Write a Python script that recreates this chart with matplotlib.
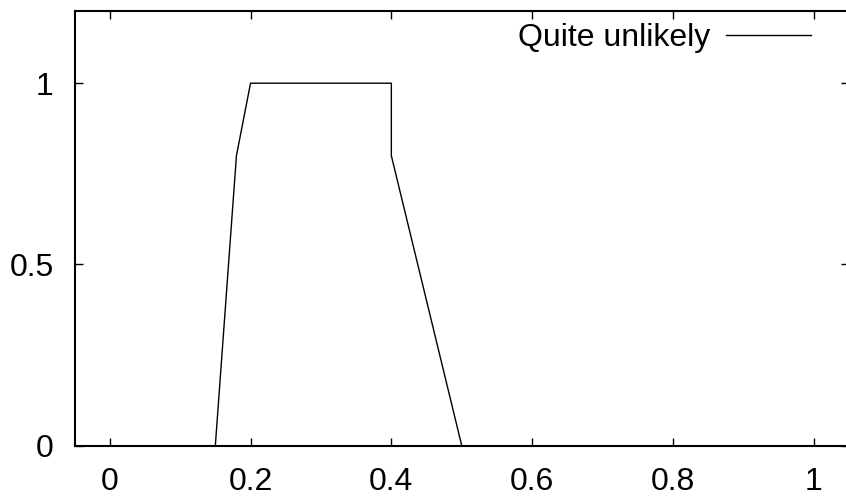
import matplotlib
matplotlib.use("Agg")
import matplotlib.pyplot as plt

x_vals = [0, 0.15, 0.18, 0.2, 0.4, 0.4, 0.5, 1.0]
y_vals = [0, 0, 0.8, 1, 1, 0.8, 0, 0]
series_label = "Quite unlikely"
x_ticks = [0, 0.2, 0.4, 0.6, 0.8, 1]
x_tick_labels = ["0", "0.2", "0.4", "0.6", "0.8", "1"]
y_ticks = [0, 0.5, 1]
y_tick_labels = ["0", "0.5", "1"]

plt.rcParams['font.family'] = ['Liberation Sans', 'DejaVu Sans']
fig = plt.figure(figsize=(8.46, 4.97), dpi=100)
W, H = 846, 497
left, right, top, bottom = 74.5, 849, 10.7, 445.7
ax = fig.add_axes([left / W, 1 - bottom / H, (right - left) / W, (bottom - top) / H])
ax.plot(x_vals, y_vals, color='black', lw=1.0, label=series_label)
ax.set_xlim(-0.05, 1.05)
ax.set_ylim(0, 1.2)
ax.set_xticks(x_ticks)
ax.set_xticklabels(x_tick_labels)
ax.set_yticks(y_ticks)
ax.set_yticklabels(y_tick_labels)
ax.tick_params(direction='in', length=6, width=1, top=True, right=True,
               labelsize=23, pad=15, colors='black')
ax.tick_params(axis='x', pad=15)
for s in ax.spines.values():
    s.set_linewidth(1.5)
leg = fig.legend(loc='upper right', bbox_to_anchor=(811 / W, 1 - 23 / H),
                 frameon=False, markerfirst=False, fontsize=23, handlelength=2.65,
                 handletextpad=0.5, borderaxespad=0, borderpad=0)
fig.savefig("out.png", dpi=100)
